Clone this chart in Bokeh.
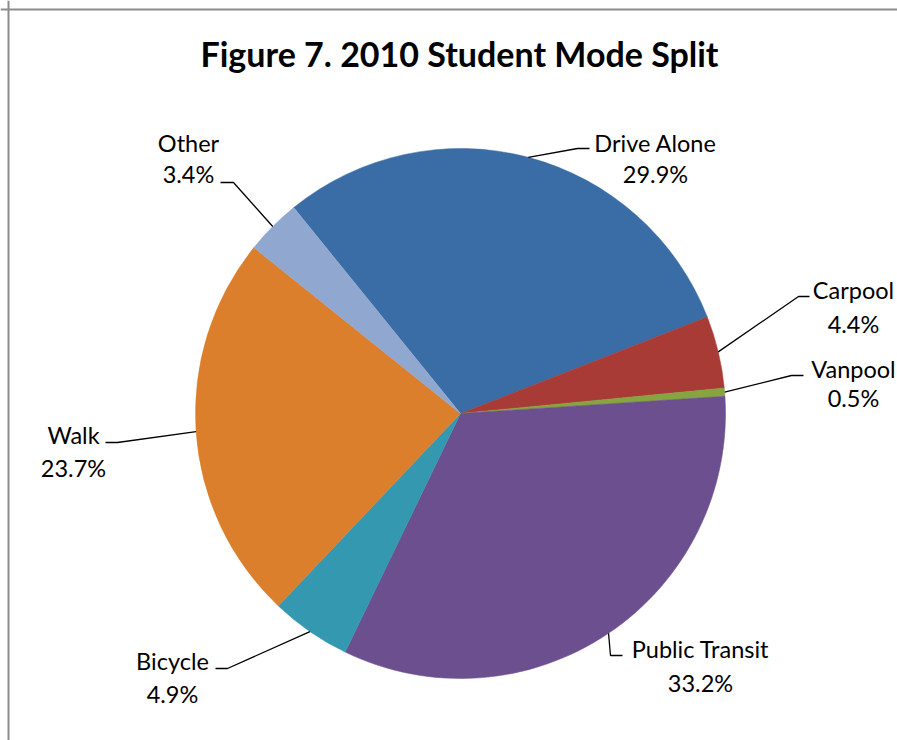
import math
from bokeh.plotting import figure
from bokeh.models import Range1d, Span, ColumnDataSource
from bokeh.core.properties import value
from bokeh.embed import file_html
from bokeh.resources import INLINE

# ---- data ----
modes = ["Drive Alone", "Carpool", "Vanpool", "Public Transit", "Bicycle", "Walk", "Other"]
shares = [29.9, 4.4, 0.5, 33.2, 4.9, 23.7, 3.4]
colors = ["#3A6CA5", "#A83B36", "#86A43F", "#6C4F8E", "#3398B0", "#DB7F2C", "#90A8D0"]
title_text = "Figure 7. 2010 Student Mode Split"

# ---- layout (page pixel coords; y measured down from top of page) ----
W, H = 897, 740
CX, CY, R = 460, 413, 265
FIRST_ANGLE = -39.0  # degrees clockwise from 12 o'clock
# label centre x, name centre y, pct centre y, leader elbow (x, y), leader end x
label_layout = [
    (655, 142, 173, 577, 148, 589),
    (853, 289, 323, 798, 296, 809),
    (853, 368, 397, 791, 375, 803),
    (700, 648, 682, 610, 655, 622),
    (172, 660, 693, 227, 668, 215),
    (73, 434, 467, 117, 442, 105),
    (188, 142, 173, 233, 182, 220),
]

def py(y):  # page y (down) -> data y (up)
    return H - y

p = figure(width=W, height=H, output_backend="svg", toolbar_location=None,
           x_range=Range1d(0, W), y_range=Range1d(0, H),
           min_border=0, outline_line_color=None)
p.axis.visible = False
p.grid.visible = False
p.background_fill_color = "white"
p.border_fill_color = "white"

total = sum(shares)
starts, ends, mids = [], [], []
cum = 0.0
for s in shares:
    a0 = FIRST_ANGLE + cum / total * 360.0
    cum += s
    a1 = FIRST_ANGLE + cum / total * 360.0
    starts.append(math.radians(90 - a0))
    ends.append(math.radians(90 - a1))
    mids.append((a0 + a1) / 2.0)

src = ColumnDataSource(dict(start=starts, end=ends, color=colors, mode=modes))
p.wedge(x=CX, y=py(CY), radius=R, start_angle="start", end_angle="end",
        direction="clock", fill_color="color", line_color="color", line_width=0.5,
        source=src)

# leader lines
xs, ys = [], []
for m, lay in zip(mids, label_layout):
    ex = CX + R * math.sin(math.radians(m))
    ey = CY - R * math.cos(math.radians(m))
    xs.append([ex, lay[3], lay[5]])
    ys.append([py(ey), py(lay[4]), py(lay[4])])
p.multi_line(xs=xs, ys=ys, line_color="black", line_width=1.3)

# labels
font = value("Lato")
p.text(x=[l[0] for l in label_layout], y=[py(l[1]) for l in label_layout], text=modes,
       text_font=font, text_font_size="23.5px", text_align="center",
       text_baseline="middle", text_color="black")
p.text(x=[l[0] for l in label_layout], y=[py(l[2]) for l in label_layout],
       text=[f"{s:.1f}%" for s in shares],
       text_font=font, text_font_size="23.5px", text_align="center",
       text_baseline="middle", text_color="black")

# title
p.text(x=[459], y=[py(53)], text=[title_text], text_font=font, text_font_size="34px",
       text_font_style="bold", text_align="center", text_baseline="middle",
       text_color="black")

# chart-area border (left and top visible; rest is cropped)
p.add_layout(Span(location=8, dimension="height", line_color="#8C8C8C", line_width=2))
p.add_layout(Span(location=py(9), dimension="width", line_color="#8C8C8C", line_width=2))

open("out.html", "w").write(file_html(p, INLINE))
